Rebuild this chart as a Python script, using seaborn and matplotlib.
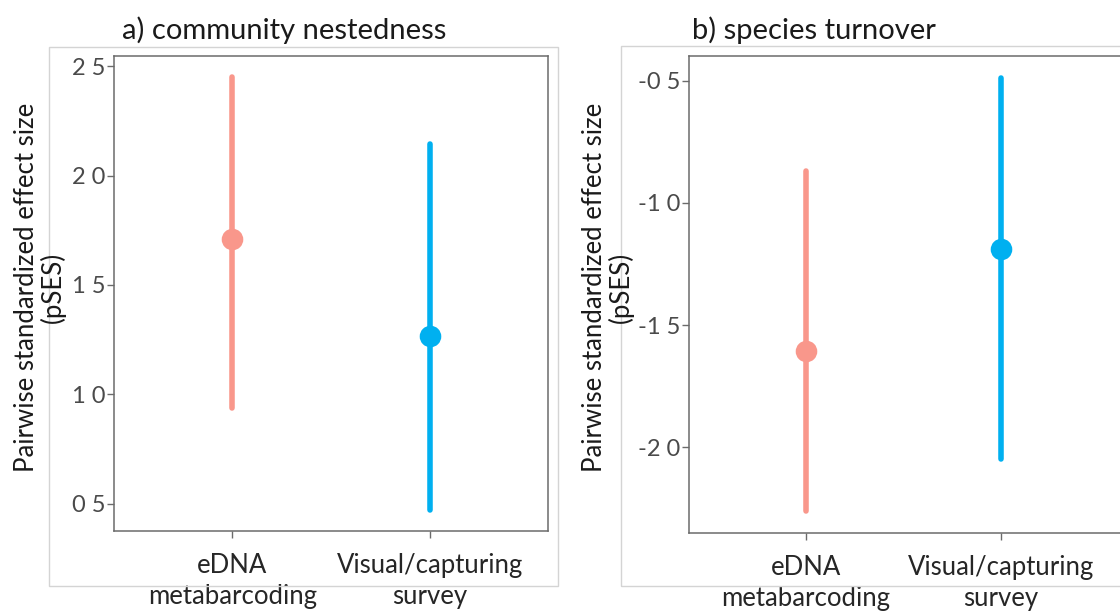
import matplotlib
matplotlib.use("Agg")
import matplotlib.pyplot as plt
import seaborn as sns
import pandas as pd
from matplotlib.patches import Rectangle

sns.set_theme(style="white")
plt.rcParams['font.family'] = ['Lato', 'DejaVu Sans']

# ---- data ----
methods = ["eDNA\nmetabarcoding", "Visual/capturing\nsurvey"]
colors = ["#F9978B", "#00B0F0"]

nest_mean = [1.712, 1.267]
nest_low = [0.94, 0.473]
nest_high = [2.45, 2.146]

turn_mean = [-1.607, -1.189]
turn_low = [-2.262, -2.049]
turn_high = [-0.869, -0.488]

nest_ticks = [0.5, 1.0, 1.5, 2.0, 2.5]
nest_ticklabels = ["0 5", "1 0", "1 5", "2 0", "2 5"]
turn_ticks = [-2.0, -1.5, -1.0, -0.5]
turn_ticklabels = ["-2 0", "-1 5", "-1 0", "-0 5"]

titles = ["a) community nestedness", "b) species turnover"]
ylabel = "Pairwise standardized effect size\n(pSES)"

W, H = 1120, 616
fig = plt.figure(figsize=(W / 100, H / 100), dpi=100)


def px_axes(l, t, r, b):
    return fig.add_axes([l / W, 1 - b / H, (r - l) / W, (b - t) / H])


def frame(l, t, r, b):
    fig.patches.append(Rectangle((l / W, 1 - b / H), (r - l) / W, (b - t) / H,
                                 transform=fig.transFigure, fill=False,
                                 edgecolor="#d4d4d4", linewidth=1.0, zorder=0))


def panel(ax, mean, low, high, ticks, ticklabels, ylim, xlim):
    df = pd.DataFrame({
        "method": [m for m in methods for _ in range(3)],
        "value": [v for i in range(2) for v in (low[i], mean[i], high[i])],
    })
    sns.pointplot(data=df, x="method", y="value", hue="method", order=methods,
                  hue_order=methods, palette=colors, estimator="median",
                  errorbar=lambda x: (x.min(), x.max()), linestyle="none",
                  markersize=13.5, err_kws={"linewidth": 4.0},
                  legend=False, ax=ax)
    ax.set_xlim(*xlim)
    ax.set_ylim(*ylim)
    ax.set_yticks(ticks)
    ax.set_yticklabels(ticklabels)
    ax.set_xlabel("")
    ax.set_ylabel("")
    for s in ax.spines.values():
        s.set_color("#6b6b6b")
        s.set_linewidth(1.1)
    ax.tick_params(axis="both", which="both", length=5, width=1, color="#6b6b6b",
                   left=True, bottom=True)
    ax.tick_params(axis="y", labelsize=17, labelcolor="#4a4a4a", pad=1)
    ax.tick_params(axis="x", labelsize=18.5, labelcolor="#262626", pad=11)
    for lab in ax.get_xticklabels():
        lab.set_linespacing(1.3)


# left panel
frame(49, 47, 558, 586)
ax1 = px_axes(114, 56, 548, 531)
panel(ax1, nest_mean, nest_low, nest_high, nest_ticks, nest_ticklabels,
      (0.376, 2.546), (-0.6, 1.6))
fig.text(122 / W, 1 - 30 / H, titles[0], fontsize=21, color="#1a1a1a",
         ha="left", va="center")
fig.text(40 / W, 1 - 287 / H, ylabel, fontsize=18.5, color="#1a1a1a",
         rotation=90, ha="center", va="center", linespacing=1.0)

# right panel
frame(621, 46, 1130, 586)
ax2 = px_axes(689, 56, 1130, 533)
panel(ax2, turn_mean, turn_low, turn_high, turn_ticks, turn_ticklabels,
      (-2.352, -0.398), (-0.6, -0.6 + 441 / 195))
ax2.spines["right"].set_visible(False)
fig.text(692 / W, 1 - 30 / H, titles[1], fontsize=21, color="#1a1a1a",
         ha="left", va="center")
fig.text(608 / W, 1 - 287 / H, ylabel, fontsize=18.5, color="#1a1a1a",
         rotation=90, ha="center", va="center", linespacing=1.0)

fig.savefig("out.png", dpi=100)
